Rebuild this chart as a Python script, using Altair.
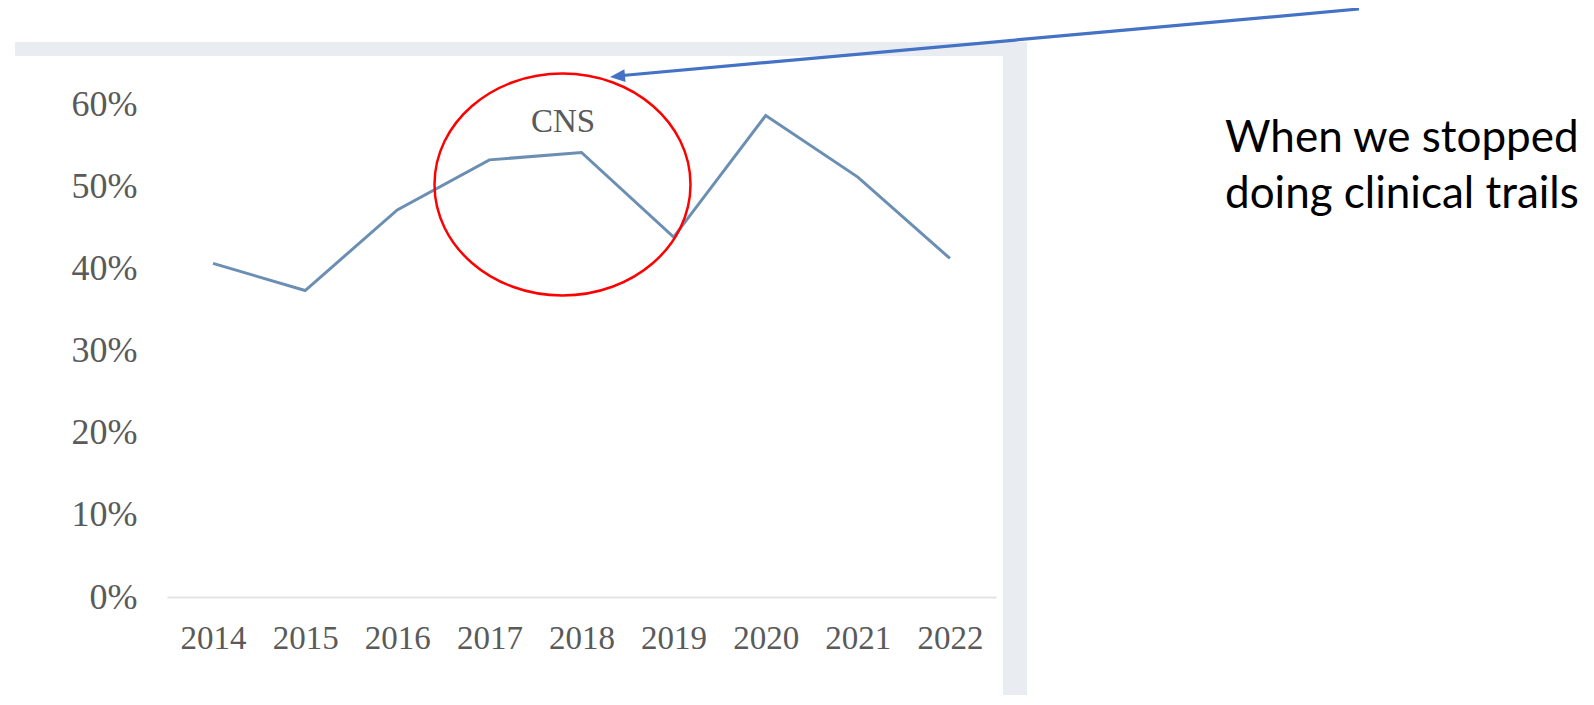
import altair as alt
import pandas as pd

# ---- data ----
years = [2014, 2015, 2016, 2017, 2018, 2019, 2020, 2021, 2022]
cns_share = [40.6, 37.3, 47.1, 53.2, 54.1, 43.8, 58.6, 51.1, 41.2]
y_ticks = [0, 10, 20, 30, 40, 50, 60]
series_label = "CNS"
note_lines = ["When we stopped", "doing clinical trails"]

df = pd.DataFrame({"year": years, "share": cns_share})
one = pd.DataFrame({"k": [0]})

W, H = 829, 493
SERIF = "Liberation Serif"
GREY_TXT = "#5a5a5a"
FRAME = "#e9edf2"
BLUE = "#4472c4"

x_scale = alt.Scale(domain=[2013.5, 2022.5], nice=False, zero=False)
y_scale = alt.Scale(domain=[0, 60], nice=False)

line = alt.Chart(df).mark_line(color="#6b8fb3", strokeWidth=3).encode(
    x=alt.X("year:Q", scale=x_scale,
            axis=alt.Axis(values=years, format="d", title=None, grid=False,
                          ticks=False, tickSize=0, labelFont=SERIF,
                          labelFontSize=33, labelColor=GREY_TXT,
                          labelBaseline="alphabetic", labelPadding=51,
                          labelOverlap=False, labelFlush=False,
                          domainColor="#e4e4e4", domainWidth=2)),
    y=alt.Y("share:Q", scale=y_scale,
            axis=alt.Axis(values=y_ticks, labelExpr="datum.value + '%'",
                          title=None, grid=False, ticks=False, tickSize=0,
                          domain=False, labelFont=SERIF, labelFontSize=36,
                          labelColor=GREY_TXT, labelPadding=30,
                          labelOverlap=False)),
)

# frame bands of the pasted screenshot
top_band = alt.Chart(one).mark_rect(color=FRAME).encode(
    x=alt.value(-152), x2=alt.value(860), y=alt.value(-62), y2=alt.value(-48))
right_band = alt.Chart(one).mark_rect(color=FRAME).encode(
    x=alt.value(836), x2=alt.value(860), y=alt.value(-62), y2=alt.value(640))

cns = alt.Chart(one).mark_text(text=series_label, font=SERIF, fontSize=33,
                               color=GREY_TXT, align="center",
                               baseline="alphabetic").encode(
    x=alt.value(396), y=alt.value(28))

ellipse = alt.Chart(one).mark_point(
    shape="M -1 0 A 1 0.867 0 1 1 1 0 A 1 0.867 0 1 1 -1 0 Z",
    size=65536, filled=False, stroke="#ff0000", strokeWidth=2.5, opacity=1
).encode(x=alt.value(395.5), y=alt.value(80.5))

arrow_line = alt.Chart(one).mark_rule(color=BLUE, strokeWidth=3.2).encode(
    x=alt.value(1192), y=alt.value(-95), x2=alt.value(450), y2=alt.value(-28))
arrow_head = alt.Chart(one).mark_point(
    shape="M -1 0 L 1 -0.85 L 1 0.85 Z", size=225, filled=True,
    color=BLUE, opacity=1, angle=354.8
).encode(x=alt.value(450.5), y=alt.value(-27.7))

note = alt.Chart(one).mark_text(align="left", baseline="alphabetic",
                                font="Lato", fontSize=44, lineHeight=56,
                                color="#000000").encode(
    text=alt.value(note_lines), x=alt.value(1058), y=alt.value(48))

chart = alt.layer(top_band, right_band, line, cns, ellipse, arrow_line,
                  arrow_head, note).properties(
    width=W, height=H, autosize="none",
    padding={"left": 159, "top": 96, "right": 588, "bottom": 98},
    background="white",
).configure_view(stroke=None)

chart.save("out.html", embed_options={"renderer": "svg", "actions": False})
